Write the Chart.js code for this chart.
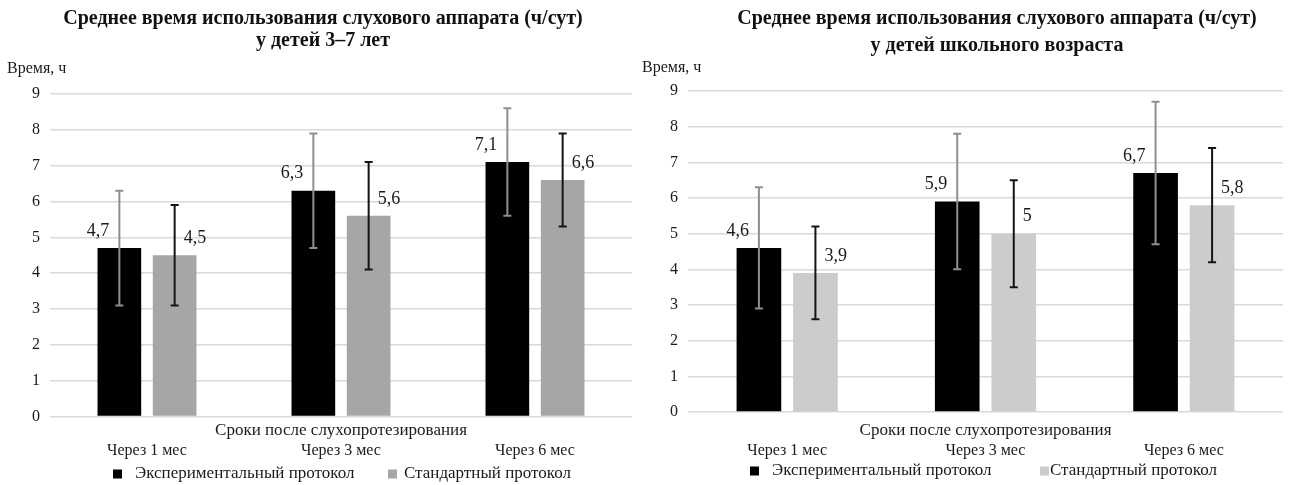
<!DOCTYPE html>
<html lang="ru">
<head>
<meta charset="utf-8">
<title>Среднее время использования слухового аппарата</title>
<script src="https://cdn.jsdelivr.net/npm/chart.js@4/dist/chart.umd.min.js"></script>
<style>
	html, body { margin: 0; padding: 0; background: #fff; }
	#wrap { position: relative; width: 1290px; height: 485px; overflow: hidden; }
	canvas { position: absolute; top: 0; }
	#grafic1 { left: 0; }
	#grafic2 { left: 640px; }
</style>
</head>
<body>
<div id="wrap">
	<canvas id="grafic1" width="640" height="485"></canvas>
	<canvas id="grafic2" width="650" height="485"></canvas>
</div>
<script>
// Dades llegides del gràfic
const categories = ['Через 1 мес', 'Через 3 мес', 'Через 6 мес'];
const nomsSeries = ['Экспериментальный протокол', 'Стандартный протокол'];
const yTicks = [0, 1, 2, 3, 4, 5, 6, 7, 8, 9];

// Дети 3–7 лет
const petitsExp = [4.7, 6.3, 7.1];
const petitsExpErr = [1.6, 1.6, 1.5];
const petitsStd = [4.5, 5.6, 6.6];
const petitsStdErr = [1.4, 1.5, 1.3];

// Дети школьного возраста
const escolarsExp = [4.6, 5.9, 6.7];
const escolarsExpErr = [1.7, 1.9, 2.0];
const escolarsStd = [3.9, 5.0, 5.8];
const escolarsStdErr = [1.3, 1.5, 1.6];

const titol1 = ['Среднее время использования слухового аппарата (ч/сут)', 'у детей 3–7 лет'];
const titol2 = ['Среднее время использования слухового аппарата (ч/сут)', 'у детей школьного возраста'];
const titolEixY = 'Время, ч';
const titolEixX = 'Сроки после слухопротезирования';

const FONT = '"Liberation Serif", "Times New Roman", serif';

// Barres d'error i etiquetes de valor
const barresError = {
	id: 'barresError',
	afterDatasetsDraw(chart) {
		const ctx = chart.ctx;
		const escalaY = chart.scales.y;
		chart.data.datasets.forEach((ds, i) => {
			const meta = chart.getDatasetMeta(i);
			ctx.save();
			ctx.strokeStyle = ds.errorColor;
			ctx.lineWidth = 2;
			meta.data.forEach((bar, j) => {
				let dalt = escalaY.getPixelForValue(ds.data[j] + ds.errors[j]);
				let baix = escalaY.getPixelForValue(ds.data[j] - ds.errors[j]);
				ctx.beginPath();
				ctx.moveTo(bar.x, dalt);
				ctx.lineTo(bar.x, baix);
				ctx.moveTo(bar.x - 4, dalt);
				ctx.lineTo(bar.x + 4, dalt);
				ctx.moveTo(bar.x - 4, baix);
				ctx.lineTo(bar.x + 4, baix);
				ctx.stroke();
			});
			ctx.restore();

			// etiquetes
			ctx.save();
			ctx.fillStyle = '#1a1a1a';
			ctx.font = '18px ' + FONT;
			ctx.textBaseline = 'middle';
			meta.data.forEach((bar, j) => {
				let text = String(ds.data[j]).replace('.', ',');
				if (ds.labelSide == 'left') {
					ctx.textAlign = 'right';
					ctx.fillText(text, bar.x - 10, bar.y - 17);
				} else {
					ctx.textAlign = 'left';
					ctx.fillText(text, bar.x + 9, bar.y - 17);
				}
			});
			ctx.restore();
		});
	}
};

// Títol, títols d'eixos i llegenda
const decoracio = {
	id: 'decoracio',
	afterDraw(chart, args, opts) {
		const ctx = chart.ctx;
		const area = chart.chartArea;
		ctx.save();
		ctx.fillStyle = '#111';
		ctx.textBaseline = 'middle';

		ctx.textAlign = 'center';
		ctx.font = 'bold 20px ' + FONT;
		opts.titol.forEach((linia, i) => {
			ctx.fillText(linia, opts.titolX, opts.titolY[i]);
		});

		ctx.font = '16px ' + FONT;
		ctx.textAlign = 'left';
		ctx.fillStyle = '#1a1a1a';
		ctx.fillText(titolEixY, opts.eixYX, opts.eixYY);

		ctx.font = '17px ' + FONT;
		ctx.textAlign = 'center';
		ctx.fillText(titolEixX, (area.left + area.right) / 2, opts.eixXY);

		// llegenda
		ctx.textAlign = 'left';
		chart.data.datasets.forEach((ds, i) => {
			ctx.fillStyle = ds.backgroundColor;
			ctx.fillRect(opts.llegendaCaixa[i], opts.llegendaY - 4.5, 9, 9);
			ctx.fillStyle = '#1a1a1a';
			ctx.fillText(ds.label, opts.llegendaText[i], opts.llegendaY);
		});
		ctx.restore();
	}
};

function creaGrafic(id, exp, expErr, std, stdErr, colorStd, deco, mides) {
	return new Chart(document.getElementById(id), {
		type: 'bar',
		data: {
			labels: categories,
			datasets: [{
				label: nomsSeries[0],
				data: exp,
				errors: expErr,
				errorColor: '#8f8f8f',
				labelSide: 'left',
				backgroundColor: '#000000',
				categoryPercentage: 0.57,
				barPercentage: 0.79
			}, {
				label: nomsSeries[1],
				data: std,
				errors: stdErr,
				errorColor: '#141414',
				labelSide: 'right',
				backgroundColor: colorStd,
				categoryPercentage: 0.57,
				barPercentage: 0.79
			}]
		},
		options: {
			responsive: false,
			animation: false,
			layout: { padding: { top: mides.top, right: mides.right, left: 0, bottom: 0 } },
			plugins: {
				legend: { display: false },
				title: { display: false },
				tooltip: { enabled: false },
				decoracio: deco
			},
			scales: {
				x: {
					grid: { display: false },
					border: { display: false },
					ticks: {
						color: '#1a1a1a',
						font: { family: FONT, size: 16 },
						padding: mides.tickPad,
						maxRotation: 0
					},
					afterFit(scale) { scale.height = mides.xHeight; }
				},
				y: {
					min: 0,
					max: yTicks[yTicks.length - 1],
					afterBuildTicks(scale) { scale.ticks = yTicks.map(v => ({ value: v })); },
					grid: { color: '#d9d9d9', lineWidth: 1.5, drawTicks: false },
					border: { display: false },
					ticks: {
						color: '#1a1a1a',
						font: { family: FONT, size: 16 },
						padding: 10
					},
					afterFit(scale) { scale.width = mides.yWidth; }
				}
			}
		},
		plugins: [barresError, decoracio]
	});
}

creaGrafic('grafic1', petitsExp, petitsExpErr, petitsStd, petitsStdErr, '#a6a6a6', {
	titol: titol1, titolX: 323, titolY: [19, 41],
	eixYX: 7, eixYY: 69, eixXY: 431,
	llegendaY: 474, llegendaCaixa: [113, 388], llegendaText: [135, 404]
}, { top: 94, right: 8, yWidth: 50, xHeight: 68.5, tickPad: 17 });

creaGrafic('grafic2', escolarsExp, escolarsExpErr, escolarsStd, escolarsStdErr, '#cccccc', {
	titol: titol2, titolX: 357, titolY: [19, 46],
	eixYX: 2, eixYY: 68, eixXY: 431,
	llegendaY: 471, llegendaCaixa: [110, 400], llegendaText: [132, 410]
}, { top: 91, right: 7, yWidth: 48, xHeight: 73, tickPad: 21 });
</script>
</body>
</html>
